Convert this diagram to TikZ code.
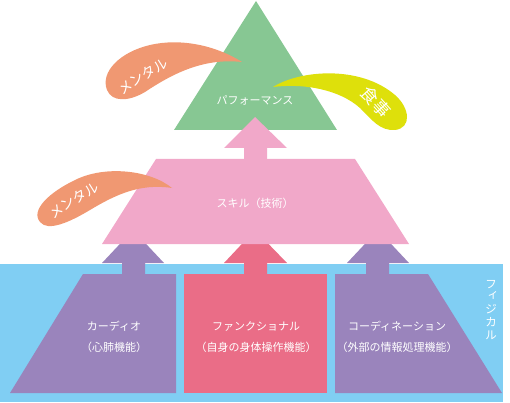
\documentclass[tikz,border=0pt]{standalone}
\usepackage{fontspec}
\newfontfamily\jp{Noto Sans CJK JP}
\definecolor{cgreen}{HTML}{87C793}
\definecolor{cpink}{HTML}{F1A8C9}
\definecolor{corange}{HTML}{F09872}
\definecolor{cyellow}{HTML}{DEE00B}
\definecolor{cblue}{HTML}{80CEF3}
\definecolor{cpurple}{HTML}{9A84BC}
\definecolor{cred}{HTML}{EA6D87}
\tikzset{
  lbl/.style={text=white, inner sep=0pt, font=\jp\fontsize{11}{13}\selectfont},
  blob/.style={text=white, inner sep=0pt, font=\jp\fontsize{14}{16}\selectfont},
}
\begin{document}
\begin{tikzpicture}[x=1pt,y=-1pt]
\useasboundingbox (0,0) rectangle (510,403);
% blue band
\fill[cblue] (0,264) rectangle (503,402);
% bottom blocks
\fill[cpurple] (83,274) -- (176,274) -- (176,393) -- (10,393) -- cycle;
\fill[cred] (184,274) rectangle (327,393);
\fill[cpurple] (335,274) -- (428,274) -- (502,393) -- (335,393) -- cycle;
% arrows
\fill[cpurple] (133,230) -- (164,263) -- (145,263) -- (145,274) -- (122,274) -- (122,263) -- (102,263) -- cycle;
\fill[cred] (255,230) -- (287,263) -- (267,263) -- (267,274) -- (244,274) -- (244,263) -- (224,263) -- cycle;
\fill[cpurple] (378,230) -- (409,263) -- (389,263) -- (389,274) -- (366,274) -- (366,263) -- (347,263) -- cycle;
% pink trapezoid
\fill[cpink] (156,159) -- (355,159) -- (409,244) -- (102,244) -- cycle;
% green triangle
\fill[cgreen] (256,1) -- (337,130) -- (174,130) -- cycle;
% pink arrow
\fill[cpink] (255,117) -- (287,148) -- (267,148) -- (267,159) -- (244,159) -- (244,148) -- (224,148) -- cycle;
% blobs
\fill[corange] (242,62) .. controls (215,45) and (180,38) .. (150,45)
  .. controls (120,52) and (100,72) .. (107,90)
  .. controls (112,102) and (128,102) .. (145,92)
  .. controls (175,72) and (205,58) .. (242,62) -- cycle;
\fill[cyellow] (273,87) .. controls (300,70) and (360,65) .. (395,95)
  .. controls (410,108) and (412,128) .. (395,130)
  .. controls (380,131) and (372,120) .. (360,108)
  .. controls (340,90) and (305,83) .. (273,87) -- cycle;
\fill[corange] (172,188) .. controls (150,170) and (105,165) .. (75,180)
  .. controls (50,192) and (30,210) .. (40,222)
  .. controls (48,232) and (70,222) .. (90,210)
  .. controls (115,195) and (140,183) .. (172,188) -- cycle;
% labels
\node[lbl] (perf) at (255,100) {パフォーマンス};
\node[lbl] (skill) at (255,203) {スキル（技術）};
\node[lbl] (card) at (114,326) {カーディオ};
\node[lbl] (cards) at (114,347) {（心肺機能）};
\node[lbl] (func) at (256,326) {ファンクショナル};
\node[lbl] (funcs) at (256,347) {（自身の身体操作機能）};
\node[lbl] (coord) at (397,326) {コーディネーション};
\node[lbl] (coords) at (397,347) {（外部の情報処理機能）};
\node[lbl, align=center, font=\jp\fontsize{11.5}{12.8}\selectfont] (phys) at (491,310)
  {フ\\\rlap{\hspace{2pt}\raisebox{3pt}{ィ}}\phantom{フ}\\ジ\\カ\\ル};
\node[blob, rotate=32] (men1) at (143,76) {メンタル};
\node[blob, rotate=32] (men2) at (74,200) {メンタル};
\node[blob, rotate=-48, font=\jp\fontsize{17}{19}\selectfont] (food) at (376,102) {食事};
\end{tikzpicture}
\end{document}
